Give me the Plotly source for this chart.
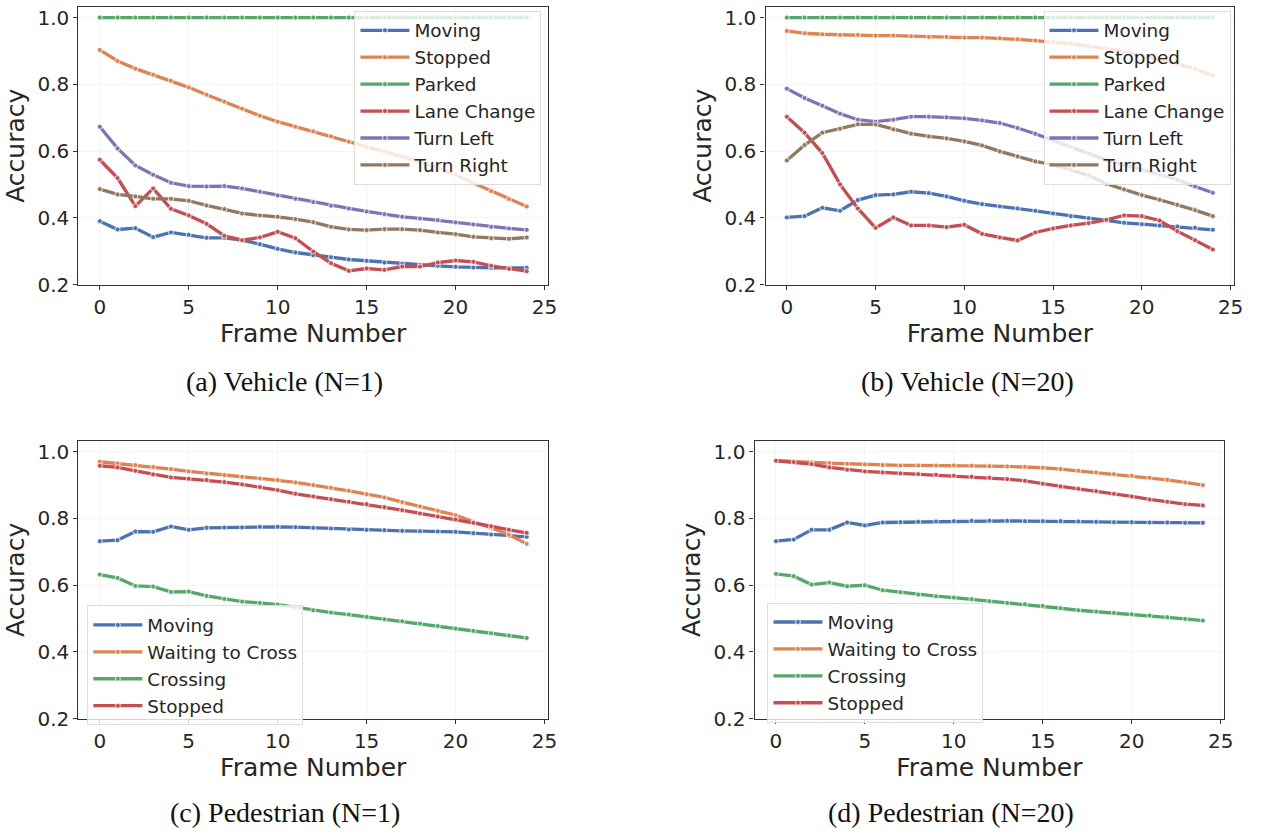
import plotly.graph_objects as go

frames = list(range(25))

# (a) Vehicle (N=1)
veh1_moving = [0.390, 0.365, 0.369, 0.342, 0.356, 0.349, 0.340, 0.340, 0.333, 0.321, 0.307, 0.296, 0.288,
               0.282, 0.275, 0.271, 0.266, 0.262, 0.259, 0.256, 0.253, 0.251, 0.250, 0.250, 0.250]
veh1_stopped = [0.903, 0.870, 0.847, 0.829, 0.811, 0.791, 0.769, 0.748, 0.727, 0.706, 0.688, 0.673, 0.659,
                0.644, 0.628, 0.612, 0.598, 0.584, 0.568, 0.549, 0.529, 0.504, 0.480, 0.456, 0.434]
veh1_parked = [1.0] * 25
veh1_lane = [0.574, 0.519, 0.435, 0.488, 0.427, 0.407, 0.382, 0.346, 0.333, 0.341, 0.358, 0.339, 0.299,
             0.264, 0.241, 0.248, 0.244, 0.254, 0.254, 0.266, 0.272, 0.268, 0.256, 0.247, 0.240]
veh1_left = [0.673, 0.608, 0.557, 0.529, 0.505, 0.495, 0.494, 0.495, 0.488, 0.478, 0.467, 0.457, 0.447,
             0.436, 0.428, 0.419, 0.411, 0.403, 0.398, 0.393, 0.386, 0.380, 0.373, 0.368, 0.364]
veh1_right = [0.486, 0.470, 0.464, 0.457, 0.457, 0.451, 0.437, 0.426, 0.413, 0.407, 0.403, 0.396, 0.387,
              0.373, 0.365, 0.363, 0.366, 0.366, 0.363, 0.356, 0.351, 0.343, 0.339, 0.337, 0.341]

# (b) Vehicle (N=20)
veh20_moving = [0.401, 0.405, 0.430, 0.421, 0.453, 0.468, 0.470, 0.478, 0.474, 0.464, 0.451, 0.441, 0.434,
                0.428, 0.421, 0.413, 0.405, 0.399, 0.392, 0.385, 0.381, 0.377, 0.374, 0.370, 0.364]
veh20_stopped = [0.960, 0.953, 0.950, 0.948, 0.948, 0.946, 0.946, 0.944, 0.942, 0.942, 0.940, 0.940, 0.938,
                 0.935, 0.931, 0.927, 0.921, 0.914, 0.907, 0.897, 0.887, 0.875, 0.861, 0.846, 0.826]
veh20_parked = [1.0] * 25
veh20_lane = [0.703, 0.655, 0.594, 0.500, 0.428, 0.370, 0.401, 0.377, 0.377, 0.372, 0.379, 0.352, 0.341,
              0.332, 0.356, 0.368, 0.377, 0.384, 0.394, 0.407, 0.405, 0.392, 0.360, 0.333, 0.305]
veh20_left = [0.787, 0.759, 0.736, 0.712, 0.694, 0.688, 0.694, 0.703, 0.703, 0.701, 0.698, 0.692, 0.684,
              0.669, 0.652, 0.632, 0.613, 0.593, 0.573, 0.559, 0.544, 0.529, 0.514, 0.494, 0.475]
veh20_right = [0.572, 0.618, 0.655, 0.667, 0.680, 0.680, 0.665, 0.652, 0.644, 0.638, 0.629, 0.617, 0.599,
               0.584, 0.569, 0.559, 0.544, 0.527, 0.502, 0.485, 0.468, 0.454, 0.439, 0.423, 0.405]

# (c) Pedestrian (N=1)
ped1_moving = [0.732, 0.735, 0.761, 0.760, 0.776, 0.766, 0.772, 0.773, 0.773, 0.775, 0.775, 0.774, 0.772,
               0.770, 0.767, 0.766, 0.765, 0.763, 0.762, 0.761, 0.760, 0.756, 0.752, 0.748, 0.745]
ped1_waiting = [0.970, 0.965, 0.960, 0.954, 0.948, 0.941, 0.935, 0.930, 0.925, 0.920, 0.915, 0.908, 0.900,
                0.892, 0.883, 0.873, 0.863, 0.849, 0.836, 0.823, 0.810, 0.790, 0.772, 0.751, 0.724]
ped1_crossing = [0.632, 0.622, 0.598, 0.596, 0.580, 0.581, 0.568, 0.559, 0.551, 0.547, 0.542, 0.534, 0.525,
                 0.518, 0.512, 0.505, 0.498, 0.492, 0.485, 0.478, 0.470, 0.463, 0.456, 0.449, 0.442]
ped1_stopped = [0.958, 0.953, 0.943, 0.932, 0.923, 0.919, 0.915, 0.909, 0.902, 0.894, 0.885, 0.874, 0.866,
                0.858, 0.850, 0.843, 0.834, 0.825, 0.815, 0.806, 0.797, 0.787, 0.777, 0.766, 0.757]

# (d) Pedestrian (N=20)
ped20_moving = [0.732, 0.737, 0.766, 0.766, 0.788, 0.779, 0.788, 0.789, 0.790, 0.791, 0.792, 0.793, 0.793,
                0.793, 0.792, 0.792, 0.792, 0.791, 0.790, 0.789, 0.789, 0.788, 0.788, 0.787, 0.787]
ped20_waiting = [0.973, 0.970, 0.968, 0.966, 0.964, 0.962, 0.960, 0.959, 0.959, 0.959, 0.959, 0.958, 0.957,
                 0.956, 0.955, 0.952, 0.948, 0.943, 0.938, 0.933, 0.928, 0.922, 0.916, 0.908, 0.900]
ped20_crossing = [0.634, 0.627, 0.602, 0.608, 0.597, 0.600, 0.585, 0.579, 0.572, 0.567, 0.563, 0.558, 0.552,
                  0.547, 0.543, 0.538, 0.531, 0.525, 0.521, 0.517, 0.513, 0.509, 0.504, 0.499, 0.494]
ped20_stopped = [0.973, 0.969, 0.963, 0.953, 0.946, 0.941, 0.938, 0.935, 0.933, 0.931, 0.928, 0.925, 0.922,
                 0.918, 0.913, 0.904, 0.896, 0.889, 0.882, 0.874, 0.866, 0.857, 0.850, 0.843, 0.839]

vehicle_labels = ["Moving", "Stopped", "Parked", "Lane Change", "Turn Left", "Turn Right"]
ped_labels = ["Moving", "Waiting to Cross", "Crossing", "Stopped"]
captions = ["(a) Vehicle (N=1)", "(b) Vehicle (N=20)", "(c) Pedestrian (N=1)", "(d) Pedestrian (N=20)"]
x_ticks = [0, 5, 10, 15, 20, 25]
y_ticks = [0.2, 0.4, 0.6, 0.8, 1.0]

colors = ["#4C72B0", "#DD8452", "#55A868", "#C44E52", "#8172B3", "#937860"]

W, H = 1263, 838
TEXT = "#262626"
SPINE = "#333333"

panels = [
    dict(series=[veh1_moving, veh1_stopped, veh1_parked, veh1_lane, veh1_left, veh1_right],
         labels=vehicle_labels, xd=(79, 552), yd=(6, 288), leg=(357, 10), cap=(287, 386)),
    dict(series=[veh20_moving, veh20_stopped, veh20_parked, veh20_lane, veh20_left, veh20_right],
         labels=vehicle_labels, xd=(771, 1243), yd=(6, 288), leg=(1051, 10), cap=(974, 386)),
    dict(series=[ped1_moving, ped1_waiting, ped1_crossing, ped1_stopped],
         labels=ped_labels, xd=(79, 552), yd=(447, 729), leg=(88, 614), cap=(287, 824)),
    dict(series=[ped20_moving, ped20_waiting, ped20_crossing, ped20_stopped],
         labels=ped_labels, xd=(760, 1233), yd=(447, 729), leg=(773, 611), cap=(958, 824)),
]

fig = go.Figure()
layout = dict(
    width=W, height=H, autosize=False,
    margin=dict(l=0, r=0, t=0, b=0),
    paper_bgcolor="white", plot_bgcolor="white",
    font=dict(family="DejaVu Sans", color=TEXT, size=18.4),
    showlegend=True,
)
annotations = []

for k, p in enumerate(panels):
    n = k + 1
    xa = "x" if n == 1 else f"x{n}"
    ya = "y" if n == 1 else f"y{n}"
    legname = "legend" if n == 1 else f"legend{n}"
    for j, (vals, lab) in enumerate(zip(p["series"], p["labels"])):
        fig.add_trace(go.Scatter(
            x=frames, y=vals, name=lab, mode="lines+markers",
            line=dict(color=colors[j], width=3.3),
            marker=dict(color=colors[j], size=5, line=dict(color="white", width=0.8)),
            xaxis=xa, yaxis=ya, legend=legname,
        ))
    x0, x1 = p["xd"]
    y0, y1 = p["yd"]
    axkey_x = "xaxis" if n == 1 else f"xaxis{n}"
    axkey_y = "yaxis" if n == 1 else f"yaxis{n}"
    layout[axkey_x] = dict(
        domain=[x0 / W, x1 / W], anchor=ya, range=[-1.2, 25.2],
        tickmode="array", tickvals=x_ticks, ticktext=[str(v) for v in x_ticks],
        showgrid=True, gridcolor="#f5f5f5", gridwidth=1, zeroline=False,
        showline=True, linecolor=SPINE, linewidth=1.3, mirror=True,
        ticks="outside", ticklen=4, tickwidth=1.2, tickcolor=SPINE,
        tickfont=dict(size=20, color=TEXT),
        title=dict(text="Frame Number", font=dict(size=25, color=TEXT), standoff=4),
    )
    layout[axkey_y] = dict(
        domain=[1 - y1 / H, 1 - y0 / H], anchor=xa, range=[0.2, 1.032],
        tickmode="array", tickvals=y_ticks, ticktext=[f"{v:.1f}" for v in y_ticks],
        showgrid=True, gridcolor="#f5f5f5", gridwidth=1, zeroline=False,
        showline=True, linecolor=SPINE, linewidth=1.3, mirror=True,
        ticks="outside", ticklen=4, tickwidth=1.2, tickcolor=SPINE,
        tickfont=dict(size=20, color=TEXT),
        title=dict(text="Accuracy", font=dict(size=25, color=TEXT), standoff=5),
    )
    lx, ly = p["leg"]
    layout[legname] = dict(
        x=lx / W, y=1 - ly / H, xanchor="left", yanchor="top",
        xref="paper", yref="paper",
        bgcolor="rgba(255,255,255,0.8)", bordercolor="#dddddd", borderwidth=1,
        font=dict(size=18.4, color=TEXT, family="DejaVu Sans"),
        tracegroupgap=0, itemwidth=49,
    )
    cx, cy = p["cap"]
    annotations.append(dict(
        text=captions[k], x=cx / W, y=1 - cy / H, xref="paper", yref="paper",
        xanchor="center", yanchor="middle", showarrow=False,
        font=dict(family="Liberation Serif", size=28, color="#111111"),
    ))

layout["annotations"] = annotations
fig.update_layout(**layout)
fig.write_html("out.html")
